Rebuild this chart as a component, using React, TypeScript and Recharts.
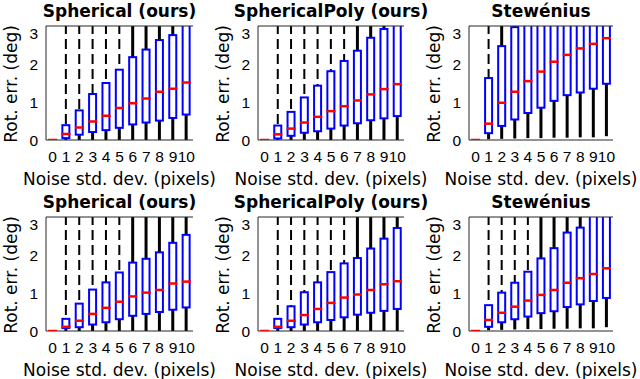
import { ComposedChart, Bar, Scatter, XAxis, YAxis } from "recharts"

// noise levels (x categories) and y ticks
const noise = [0, 1, 2, 3, 4, 5, 6, 7, 8, 9, 10]
const yTicks = [0, 1, 2, 3]

// Spherical (ours), top row
const sphTopQ1 = [0, 0.05, 0.14, 0.21, 0.26, 0.32, 0.41, 0.46, 0.51, 0.58, 0.67]
const sphTopMed = [0, 0.16, 0.33, 0.49, 0.64, 0.84, 0.97, 1.09, 1.27, 1.35, 1.51]
const sphTopQ3 = [0, 0.39, 0.78, 1.21, 1.5, 1.85, 2.18, 2.38, 2.63, 2.76, 3.05]

// SphericalPoly (ours), top row
const polyTopQ1 = [0, 0.04, 0.11, 0.19, 0.23, 0.3, 0.38, 0.44, 0.52, 0.57, 0.63]
const polyTopMed = [0, 0.15, 0.3, 0.46, 0.61, 0.76, 0.89, 1.04, 1.2, 1.34, 1.47]
const polyTopQ3 = [0, 0.38, 0.74, 1.12, 1.43, 1.81, 2.08, 2.35, 2.69, 2.92, 3.05]

// Stewénius, top row
const stewTopQ1 = [0, 0.18, 0.37, 0.54, 0.71, 0.85, 1.03, 1.18, 1.25, 1.35, 1.48]
const stewTopMed = [0, 0.43, 0.98, 1.27, 1.55, 1.8, 2.06, 2.24, 2.41, 2.53, 2.68]
const stewTopQ3 = [0, 1.63, 2.47, 2.97, 3.3, 3.5, 3.7, 3.9, 4.1, 4.3, 4.5]

// Spherical (ours), bottom row
const sphBotQ1 = [0, 0.08, 0.1, 0.17, 0.23, 0.31, 0.4, 0.45, 0.5, 0.56, 0.62]
const sphBotMed = [0, 0.11, 0.27, 0.45, 0.61, 0.77, 0.91, 1.01, 1.08, 1.25, 1.3]
const sphBotQ3 = [0, 0.32, 0.72, 1.09, 1.28, 1.54, 1.8, 1.9, 2.07, 2.32, 2.53]

// SphericalPoly (ours), bottom row
const polyBotQ1 = [0, 0.08, 0.1, 0.17, 0.23, 0.29, 0.36, 0.43, 0.48, 0.53, 0.58]
const polyBotMed = [0, 0.11, 0.27, 0.42, 0.58, 0.74, 0.88, 0.96, 1.08, 1.23, 1.31]
const polyBotQ3 = [0, 0.32, 0.65, 1.02, 1.28, 1.55, 1.78, 1.92, 2.17, 2.43, 2.71]

// Stewénius, bottom row
const stewBotQ1 = [0, 0.11, 0.23, 0.31, 0.38, 0.47, 0.52, 0.63, 0.7, 0.79, 0.87]
const stewBotMed = [0, 0.29, 0.48, 0.64, 0.8, 0.95, 1.08, 1.27, 1.39, 1.5, 1.65]
const stewBotQ3 = [0, 0.68, 1.01, 1.27, 1.56, 1.91, 2.18, 2.59, 2.72, 3.05, 3.1]

// whisker ends (upper ones run off the top of every panel)
const oursLo = [0, 0, 0, 0, 0, 0, 0, 0, 0, 0, 0]
const stewLo = [0, 0.02, 0.03, 0.04, 0.05, 0.05, 0.06, 0.06, 0.07, 0.07, 0.1]
const whiskerHi = [0, 3.5, 3.8, 4.2, 4.6, 5, 5.4, 5.8, 6.2, 6.6, 7]

const FONT = "DejaVu Sans"
const TICK_FONT = "Liberation Sans"
const PLOT_H = 114

type Panel = {
  title: string
  q1: number[]
  med: number[]
  q3: number[]
  lo: number[]
  dashUntil: number
  left: number
  width: number
  top: number
}

const colsX = [
  { left: 46, width: 147 },
  { left: 258, width: 146 },
  { left: 469, width: 144 },
]
const rowsY = [26, 217]

const panels: Panel[] = [
  { title: "Spherical (ours)", q1: sphTopQ1, med: sphTopMed, q3: sphTopQ3, lo: oursLo, dashUntil: 5, ...colsX[0], top: rowsY[0] },
  { title: "SphericalPoly (ours)", q1: polyTopQ1, med: polyTopMed, q3: polyTopQ3, lo: oursLo, dashUntil: 6, ...colsX[1], top: rowsY[0] },
  { title: "Stewénius", q1: stewTopQ1, med: stewTopMed, q3: stewTopQ3, lo: stewLo, dashUntil: 1, ...colsX[2], top: rowsY[0] },
  { title: "Spherical (ours)", q1: sphBotQ1, med: sphBotMed, q3: sphBotQ3, lo: oursLo, dashUntil: 5, ...colsX[0], top: rowsY[1] },
  { title: "SphericalPoly (ours)", q1: polyBotQ1, med: polyBotMed, q3: polyBotQ3, lo: oursLo, dashUntil: 6, ...colsX[1], top: rowsY[1] },
  { title: "Stewénius", q1: stewBotQ1, med: stewBotMed, q3: stewBotQ3, lo: stewLo, dashUntil: 4, ...colsX[2], top: rowsY[1] },
]

function buildRows(p: Panel) {
  return noise.map((n, i) => ({
    n,
    lower: [p.lo[i], p.q1[i]],
    box: [p.q1[i], p.q3[i]],
    upper: [p.q3[i], whiskerHi[i]],
    med: p.med[i],
    dashed: i <= p.dashUntil,
  }))
}

const LowerWhisker = (props: any) => {
  const { x, y, width, height } = props
  if (!height || height < 0.5) return <g />
  const cx = x + width / 2
  return <line x1={cx} x2={cx} y1={y} y2={y + height} stroke="#000" strokeWidth={3} />
}

const UpperWhisker = (props: any) => {
  const { x, y, width, height, payload } = props
  if (!height || height < 0.5) return <g />
  const cx = x + width / 2
  const dashed = payload && payload.dashed
  return (
    <line
      x1={cx}
      x2={cx}
      y1={y}
      y2={y + height}
      stroke="#000"
      strokeWidth={dashed ? 2 : 3}
      strokeDasharray={dashed ? "10 5" : undefined}
      strokeDashoffset={dashed ? y : undefined}
    />
  )
}

const BoxShape = (props: any) => {
  const { x, y, width, height } = props
  if (!height || height < 0.5) return <g />
  return <rect x={x} y={y} width={width} height={height} fill="none" stroke="#0000ff" strokeWidth={2} />
}

const MedianShape = (props: any) => {
  const { cx, cy } = props
  return <line x1={cx - 4.5} x2={cx + 4.5} y1={cy} y2={cy} stroke="#ff0000" strokeWidth={2.5} />
}

function BoxPanel({ p }: { p: Panel }) {
  const data = buildRows(p)
  const chartW = 40 + p.width + 2
  const chartH = 2 + PLOT_H + 34
  const cx = p.left + p.width / 2
  return (
    <>
      <div
        style={{
          position: "absolute",
          left: cx - 110,
          width: 220,
          top: p.top - 25,
          lineHeight: "20px",
          textAlign: "center",
          fontWeight: "bold",
          fontSize: 17,
          whiteSpace: "nowrap",
        }}
      >
        {p.title}
      </div>
      <div
        style={{
          position: "absolute",
          left: p.left - 35 - 80,
          top: p.top + 58 - 10,
          width: 160,
          lineHeight: "20px",
          textAlign: "center",
          fontSize: 17,
          whiteSpace: "nowrap",
          transform: "rotate(-90deg)",
        }}
      >
        Rot. err. (deg)
      </div>
      <div
        style={{
          position: "absolute",
          left: cx - 110,
          width: 220,
          top: p.top + PLOT_H + 38.5 - 10,
          lineHeight: "20px",
          textAlign: "center",
          fontSize: 17,
          whiteSpace: "nowrap",
        }}
      >
        Noise std. dev. (pixels)
      </div>
      <div style={{ position: "absolute", left: p.left - 40, top: p.top - 2 }}>
        <ComposedChart
          width={chartW}
          height={chartH}
          data={data}
          margin={{ top: 2, right: 2, bottom: 0, left: 0 }}
          barSize={7}
          barGap={-7}
          barCategoryGap={0}
        >
          <XAxis
            dataKey="n"
            type="category"
            height={34}
            interval={0}
            stroke="#262626"
            tickLine={false}
            tickMargin={5}
            tick={{ fill: "#000", fontSize: 15.5, fontFamily: TICK_FONT }}
          />
          <XAxis xAxisId="top" dataKey="n" orientation="top" mirror tick={false} tickLine={false} stroke="#262626" />
          <YAxis
            type="number"
            domain={[0, 3]}
            ticks={yTicks}
            allowDataOverflow
            width={40}
            stroke="#262626"
            tickLine={false}
            tickMargin={2}
            tick={{ fill: "#000", fontSize: 15.5, fontFamily: TICK_FONT }}
          />
          <YAxis
            yAxisId="inner"
            orientation="left"
            mirror
            width={0}
            domain={[0, 3]}
            ticks={yTicks}
            tick={false}
            tickSize={3}
            axisLine={false}
            stroke="#262626"
          />
          <YAxis
            yAxisId="right"
            orientation="right"
            mirror
            width={0}
            domain={[0, 3]}
            ticks={yTicks}
            tick={false}
            tickSize={3}
            stroke="#262626"
          />
          <Bar dataKey="lower" shape={LowerWhisker} isAnimationActive={false} />
          <Bar dataKey="upper" shape={UpperWhisker} isAnimationActive={false} />
          <Bar dataKey="box" shape={BoxShape} isAnimationActive={false} />
          <Scatter dataKey="med" shape={MedianShape} isAnimationActive={false} />
        </ComposedChart>
      </div>
    </>
  )
}

export default function App() {
  return (
    <div
      style={{
        position: "relative",
        width: 640,
        height: 379,
        background: "#fff",
        fontFamily: FONT,
        color: "#000",
        overflow: "hidden",
      }}
    >
      <style>{"body{margin:0}"}</style>
      {panels.map((p, i) => (
        <BoxPanel key={i} p={p} />
      ))}
    </div>
  )
}
